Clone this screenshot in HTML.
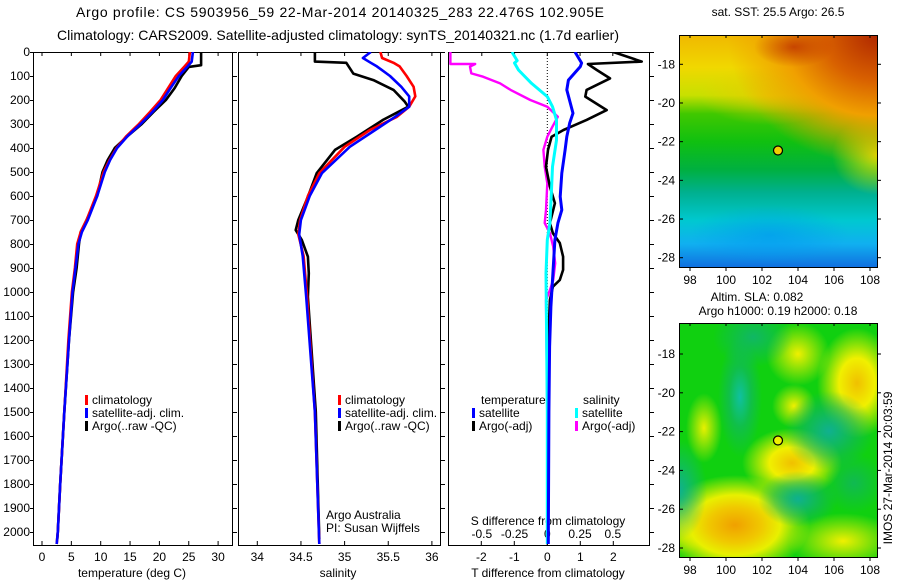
<!DOCTYPE html>
<html><head><meta charset="utf-8">
<style>
html,body{margin:0;padding:0;background:#fff;}
#wrap{position:relative;width:900px;height:580px;overflow:hidden;font-family:"Liberation Sans",sans-serif;}
svg{position:absolute;left:0;top:0;}
.map{position:absolute;}
</style></head>
<body>
<div id="wrap">
<div class="map" style="left:679px;top:35px;width:198px;height:232px;background:
radial-gradient(ellipse 40px 20px at 115px 12px, rgba(190,50,0,0.8), rgba(190,50,0,0) 100%),
radial-gradient(ellipse 150px 130px at 198px 0px, #b02800 0%, #d86000 35%, #f0a000 62%, rgba(240,200,0,0) 100%),
radial-gradient(ellipse 45px 40px at 198px 120px, rgba(235,225,0,0.9), rgba(235,225,0,0) 100%),
radial-gradient(ellipse 70px 30px at 90px 60px, rgba(240,200,0,0.7), rgba(240,200,0,0) 100%),
radial-gradient(ellipse 80px 30px at 90px 200px, rgba(0,150,240,0.6), rgba(0,150,240,0) 100%),
linear-gradient(180deg, #f0b800 0%, #f0d800 14%, #c8e000 26%, #40c800 34%, #10c010 46%, #00b040 58%, #00b090 68%, #00c8d0 80%, #10b0f0 90%, #1070e0 100%);"></div>
<div class="map" style="left:679px;top:323px;width:198px;height:234px;background:
radial-gradient(ellipse 22px 60px at 61px 74px, #10c0a0, rgba(16,180,110,0.6) 50%, rgba(16,180,110,0) 100%),
radial-gradient(ellipse 40px 30px at 74px 14px, rgba(16,180,110,0.9), rgba(16,180,110,0) 100%),
radial-gradient(ellipse 45px 40px at 150px 108px, #10b090, rgba(16,176,110,0.5) 60%, rgba(16,176,110,0) 100%),
radial-gradient(ellipse 40px 28px at 119px 176px, #10b090, rgba(16,176,110,0.5) 60%, rgba(16,176,110,0) 100%),
radial-gradient(ellipse 28px 50px at 0px 167px, #10b090, rgba(16,176,110,0) 100%),
radial-gradient(ellipse 30px 30px at 175px 160px, rgba(16,176,110,0.7), rgba(16,176,110,0) 100%),
radial-gradient(ellipse 75px 50px at 56px 202px, #f0a000 0%, #f0c800 35%, #e8f000 60%, rgba(200,240,0,0) 100%),
radial-gradient(ellipse 40px 55px at 178px 60px, #f0c000 0%, #f0f000 45%, rgba(200,240,0,0) 100%),
radial-gradient(ellipse 50px 35px at 113px 140px, #f0c000 0%, #f0f000 45%, rgba(200,240,0,0) 100%),
radial-gradient(ellipse 32px 32px at 119px 31px, #f0f000 0%, rgba(200,240,0,0) 100%),
radial-gradient(ellipse 22px 22px at 115px 83px, #f0f000 0%, rgba(200,240,0,0) 100%),
radial-gradient(ellipse 18px 35px at 25px 105px, #e8f000 0%, rgba(200,240,0,0) 100%),
radial-gradient(ellipse 55px 28px at 164px 218px, #f0f000 0%, rgba(200,240,0,0) 100%),
radial-gradient(ellipse 22px 28px at 7px 202px, #e8f000 0%, rgba(200,240,0,0) 100%),
#10d010;"></div>
<svg id="chart" width="900" height="580" xmlns="http://www.w3.org/2000/svg" font-family="Liberation Sans, sans-serif"></svg>
</div>
<script>
// ---- data ----
const depthT = [0,40,60,100,150,200,250,300,350,400,450,500,600,700,750,800,900,1000,1200,1500,1800,2000,2050];
const tClim = [25.2,25.0,24.3,22.8,21.5,20.2,18.4,16.5,14.4,12.7,11.5,10.5,9.2,7.6,6.6,6.0,5.6,5.1,4.5,3.8,3.1,2.7,2.5];
const tSat = [25.7,25.5,24.8,23.3,21.9,20.6,18.8,16.8,14.6,12.8,11.6,10.7,9.4,7.8,6.8,6.2,5.7,5.2,4.6,3.8,3.1,2.7,2.5];
const depthTA = [0,55,62,100,150,200,250,300,350,400,450,500,600,700,750,800,900,1000,1200,1500,1800,2000,2030];
const tArgo = [27.1,27.1,25.0,23.8,22.6,21.1,19.0,17.0,14.6,12.4,11.2,10.3,9.4,7.6,6.6,6.3,5.9,5.3,4.6,3.8,3.1,2.7,2.6];

const depthS = [0,25,45,60,100,145,185,228,270,325,395,505,600,700,760,850,1020,1500,2050];
const sClim = [35.41,35.43,35.56,35.63,35.71,35.79,35.81,35.74,35.60,35.29,35.00,34.71,34.58,34.49,34.47,34.53,34.57,34.66,34.71];
const sSat = [35.30,35.21,35.30,35.37,35.52,35.65,35.74,35.74,35.58,35.35,35.06,34.74,34.60,34.50,34.48,34.52,34.56,34.66,34.71];
const depthSA = [0,40,45,90,117,158,207,228,283,353,408,505,603,700,742,783,853,922,1020,1500,2030];
const sArgo = [34.66,34.66,35.02,35.10,35.33,35.56,35.69,35.73,35.44,35.14,34.89,34.68,34.58,34.47,34.44,34.51,34.58,34.59,34.58,34.67,34.71];

const dDepthTA = [0,40,50,75,110,158,186,242,283,325,353,408,478,561,630,713,755,796,853,908,950,978,1033,1200,1500,2030];
const dTArgo = [2.0,2.86,1.23,1.5,1.9,1.19,1.15,1.8,1.19,0.49,0.13,0.02,-0.04,0.08,0.23,0.08,0.17,0.38,0.48,0.48,0.38,0.17,0.08,0.03,0.02,0.02];
const dDepthTS = [0,46,61,117,158,255,296,353,408,505,603,658,713,783,922,1061,1228,1500,2050];
const dTSat = [0.84,1.04,1.0,0.64,0.59,0.78,0.68,0.59,0.54,0.44,0.39,0.44,0.32,0.23,0.17,0.11,0.07,0.05,0.03];
const dDepthSA = [0,50,50.1,61,89,103,131,158,200,228,270,311,353,408,478,547,658,713,755,811,880,950,992,1033,1500,2030];
const dSArgo = [-0.74,-0.74,-0.55,-0.59,-0.58,-0.49,-0.36,-0.28,-0.13,0.0,0.08,0.04,0.0,-0.03,-0.02,0.0,-0.01,-0.02,0.02,0.045,0.06,0.045,0.02,-0.01,0.0,0.0];
const dDepthSS = [0,36,46,75,131,186,228,283,367,478,603,713,783,922,1500,2050];
const dSSat = [-0.27,-0.23,-0.25,-0.22,-0.12,0.0,0.04,0.07,0.07,0.04,0.03,0.02,0.0,-0.01,0.0,0.0];

const depthTicks = [0,100,200,300,400,500,600,700,800,900,1000,1100,1200,1300,1400,1500,1600,1700,1800,1900,2000];
const tTicks = [0,5,10,15,20,25,30];
const sTicks = [34,34.5,35,35.5,36];
const tdTicks = [-2,-1,0,1,2];
const sdTicks = [-0.5,-0.25,0,0.25,0.5];
const sdLabels = ["-0.5","-0.25","0","0.25","0.5"];
const latTicks = [18,20,22,24,26,28];
const lonTicks = [98,100,102,104,106,108];

// ---- axes ----
const yD = d => 52 + d*0.24;
const xT = t => 42 + t*5.87;
const xS = s => 257.3 + (s-34)*87.3;
const xTd = t => 547.3 + t*33;
const xSd = s => 547.3 + s*131;
const P1 = {l:33,r:232}, P2 = {l:238,r:440}, P3 = {l:448,r:649};
const TOP = 52, BOT = 545;

const svg = document.getElementById('chart');
const NS = 'http://www.w3.org/2000/svg';
function mk(tag, attrs, parent){
  const e = document.createElementNS(NS, tag);
  for (const k in attrs) e.setAttribute(k, attrs[k]);
  (parent||svg).appendChild(e);
  return e;
}
function txt(x,y,s,size,anchor,parent){
  const e = mk('text',{x:x,y:y,'font-size':size,'text-anchor':anchor||'middle',fill:'#000'},parent);
  e.textContent = s;
  return e;
}
const defs = mk('defs',{});
[[P1,'c1'],[P2,'c2'],[P3,'c3']].forEach(([p,id])=>{
  const c = mk('clipPath',{id:id},defs);
  mk('rect',{x:p.l,y:TOP,width:p.r-p.l,height:BOT-TOP},c);
});

// titles
let t1 = txt(340,17,'Argo profile: CS 5903956_59 22-Mar-2014 20140325_283 22.476S 102.905E',14);
t1.setAttribute('textLength','528');


let t2 = txt(338,40,'Climatology: CARS2009. Satellite-adjusted climatology: synTS_20140321.nc (1.7d earlier)',14);
t2.setAttribute('textLength','562');



[P1,P2,P3].forEach((p,i)=>{
  const r = mk('rect',{x:p.l+0.5,y:TOP+0.5,width:p.r-p.l,height:BOT-TOP,fill:'none',stroke:'#000','stroke-width':1});
  
  
  depthTicks.forEach(d=>{
    mk('line',{x1:p.r+0.5,x2:p.r+5,y1:yD(d)+0.5,y2:yD(d)+0.5,stroke:'#000'});
    if(i===0) mk('line',{x1:p.l+0.5,x2:p.l-3,y1:yD(d)+0.5,y2:yD(d)+0.5,stroke:'#000'});
  });
});
depthTicks.forEach(d=>{
  const e = txt(30,yD(d)+4,String(d),12,'end');
  
  
});

tTicks.forEach(v=>{
  mk('line',{x1:xT(v),x2:xT(v),y1:TOP,y2:TOP+4,stroke:'#000'});
  mk('line',{x1:xT(v),x2:xT(v),y1:BOT,y2:BOT-4,stroke:'#000'});
  const e = txt(xT(v),561,String(v),12);
  
  
});
let xl1 = txt(132,577,'temperature (deg C)',12);


sTicks.forEach(v=>{
  mk('line',{x1:xS(v),x2:xS(v),y1:TOP,y2:TOP+4,stroke:'#000'});
  mk('line',{x1:xS(v),x2:xS(v),y1:BOT,y2:BOT-4,stroke:'#000'});
  const e = txt(xS(v),561,String(v),12);
  
  
});
let xl2 = txt(338,577,'salinity',12);


tdTicks.forEach(v=>{
  mk('line',{x1:xTd(v),x2:xTd(v),y1:BOT,y2:BOT-4,stroke:'#000'});
  const e = txt(xTd(v),561,String(v),12);
  
  
});
sdTicks.forEach((v,i)=>{
  mk('line',{x1:xSd(v),x2:xSd(v),y1:TOP,y2:TOP+4,stroke:'#000'});
  const e = txt(xSd(v),538,sdLabels[i],12);
  
  
});
let xl3 = txt(548,577,'T difference from climatology',12);


let xl4 = txt(548,525,'S difference from climatology',12);


const zl = mk('line',{x1:xTd(0),x2:xTd(0),y1:TOP,y2:BOT,stroke:'#000','stroke-dasharray':'1,2'});



function line(xs, ds, fx, color, clip, name, w){
  let d = '';
  xs.forEach((v,i)=>{ d += (i?'L':'M') + fx(v).toFixed(1) + ',' + yD(ds[i]).toFixed(1); });
  const p = mk('path',{d:d,fill:'none',stroke:color,'stroke-width':w||2.6,'clip-path':'url(#'+clip+')','stroke-linejoin':'round'});
  
  
  return p;
}
line(tArgo, depthTA, xT, '#000', 'c1', 'temperature-argo-line');
line(tClim, depthT, xT, '#f00', 'c1', 'temperature-climatology-line');
line(tSat, depthT, xT, '#00f', 'c1', 'temperature-satellite-line');
line(sArgo, depthSA, xS, '#000', 'c2', 'salinity-argo-line');
line(sClim, depthS, xS, '#f00', 'c2', 'salinity-climatology-line');
line(sSat, depthS, xS, '#00f', 'c2', 'salinity-satellite-line');
line(dSArgo, dDepthSA, xSd, '#f0f', 'c3', 's-diff-argo-line', 2.4);
line(dTArgo, dDepthTA, xTd, '#000', 'c3', 't-diff-argo-line', 2.6);
line(dSSat, dDepthSS, xSd, '#0ff', 'c3', 's-diff-satellite-line', 3);
line(dTSat, dDepthTS, xTd, '#00f', 'c3', 't-diff-satellite-line', 3);

function legend(x,y,color,label){
  const g = mk('g',{});
  
  
  mk('rect',{x:x,y:y-9,width:3,height:10,fill:color},g);
  txt(x+7,y,label,12,'start',g);
}
legend(85,404,'#f00','climatology');
legend(85,417,'#00f','satellite-adj. clim.');
legend(85,430,'#000','Argo(..raw -QC)');
legend(338,404,'#f00','climatology');
legend(338,417,'#00f','satellite-adj. clim.');
legend(338,430,'#000','Argo(..raw -QC)');
let lt = txt(481,404,'temperature',12,'start');  
let ls = txt(583,404,'salinity',12,'start');  
legend(472,417,'#00f','satellite');
legend(472,430,'#000','Argo(-adj)');
legend(575,417,'#0ff','satellite');
legend(575,430,'#f0f','Argo(-adj)');
let a1 = txt(326,519,'Argo Australia',12,'start');  
let a2 = txt(326,532,'PI: Susan Wijffels',12,'start');  

function mapAxes(left, top, w, h, latY0, latPx, name){
  const f = mk('rect',{x:left+0.5,y:top+0.5,width:w,height:h,fill:'none',stroke:'#000'});
  
  
  latTicks.forEach(v=>{
    const y = latY0 + (v-18)*latPx;
    mk('line',{x1:left,x2:left+4,y1:y,y2:y,stroke:'#000'});
    mk('line',{x1:left+w,x2:left+w+4,y1:y,y2:y,stroke:'#000'});
    const e = txt(left-4,y+4,'-'+v,12,'end');
    
    
  });
  lonTicks.forEach(v=>{
    const x = 690 + (v-98)*18;
    mk('line',{x1:x,x2:x,y1:top,y2:top+3,stroke:'#000'});
    mk('line',{x1:x,x2:x,y1:top+h,y2:top+h+4,stroke:'#000'});
    const e = txt(x,top+h+17,String(v),12);
    
    
  });
}
mapAxes(679,35,198,232,64.3,19.34,'sst-map');
mapAxes(679,323,198,234,354,19.4,'sla-map');
const d1 = mk('circle',{cx:778,cy:150.5,r:4.5,fill:'#f0d000',stroke:'#000','stroke-width':1.2});


const d2 = mk('circle',{cx:778,cy:440.5,r:4.5,fill:'#f0f000',stroke:'#000','stroke-width':1.2});


let m1 = txt(778,16,'sat. SST: 25.5 Argo: 26.5',12);  
let m2 = txt(757,301,'Altim. SLA: 0.082',12);  
let m3 = txt(778,315,'Argo h1000: 0.19 h2000: 0.18',12);  
let im = txt(0,0,'IMOS 27-Mar-2014 20:03:59',12);
im.setAttribute('transform','translate(892,468) rotate(-90)');


</script>
</body></html>
